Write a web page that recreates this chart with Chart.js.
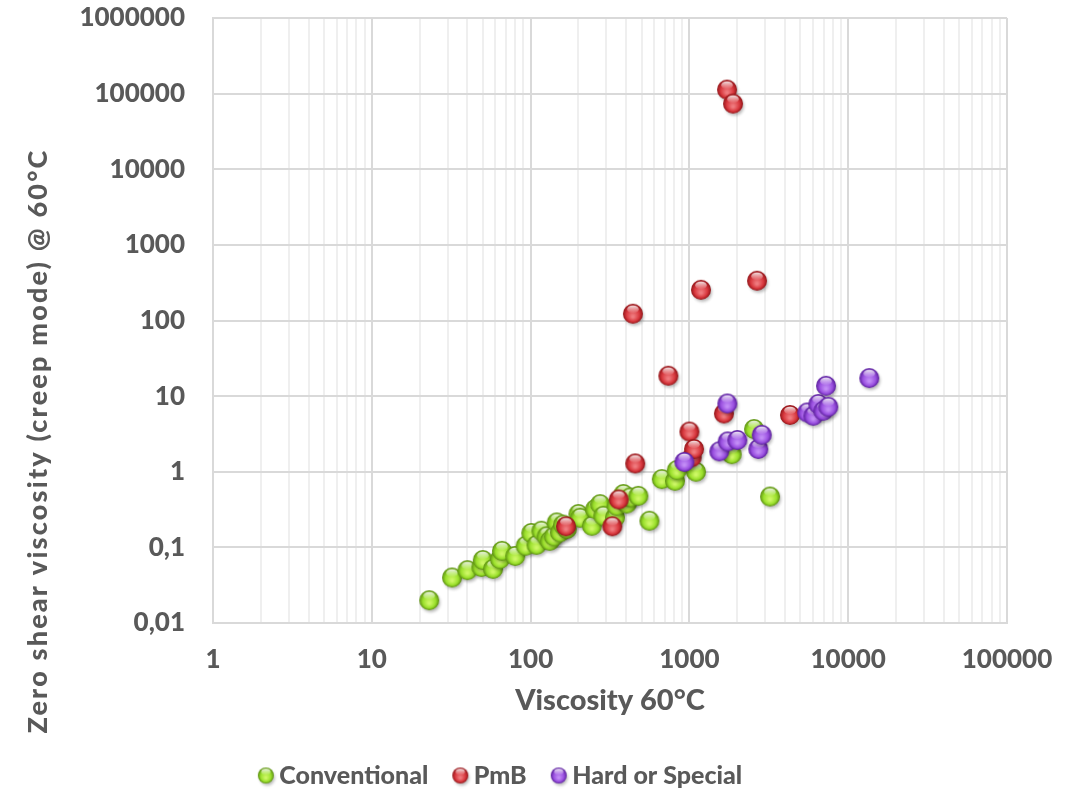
<!DOCTYPE html>
<html>
<head>
<meta charset="utf-8">
<script src="https://cdn.jsdelivr.net/npm/chart.js@4.4.1/dist/chart.umd.min.js"></script>
<style>
  html, body { margin: 0; padding: 0; background: #fff; }
  #wrap { width: 1084px; height: 793px; }
</style>
</head>
<body>
<div id="wrap"><canvas id="grafico-viscosidad" width="1084" height="793"></canvas></div>
<script>
// Series
const series = ["Conventional", "PmB", "Hard or Special"];

const conventionalX = [23, 32, 40, 49, 50, 58, 64, 66, 80, 93, 101, 109, 117, 126, 132, 140, 146, 153, 160, 169,
  200, 205, 243, 255, 274, 287, 340, 348, 384, 403, 423, 477, 560, 670, 811, 832, 1100, 1847, 2553, 3220];
const conventionalY = [0.02, 0.04, 0.05, 0.055, 0.068, 0.052, 0.07, 0.09, 0.077, 0.105, 0.155, 0.108, 0.166, 0.14, 0.122, 0.14, 0.214, 0.158, 0.2, 0.175,
  0.276, 0.246, 0.193, 0.321, 0.373, 0.262, 0.249, 0.355, 0.507, 0.38, 0.457, 0.48, 0.225, 0.8, 0.76, 1.05, 1.0, 1.71, 3.67, 0.47];

const pmbX = [167, 327, 359, 456, 441, 737, 1000, 1033, 1069, 1183, 1650, 1725, 1883, 2665, 4300];
const pmbY = [0.19, 0.19, 0.43, 1.29, 123, 18.6, 3.4, 1.55, 2.0, 255, 5.9, 113000, 73800, 336, 5.63];

const hardX = [929, 1543, 1733, 1742, 2004, 2716, 2853, 5520, 6030, 6480, 6970, 7250, 7490, 13580];
const hardY = [1.35, 1.86, 8.0, 2.52, 2.63, 2.0, 3.08, 6.08, 5.5, 7.86, 6.4, 13.7, 7.24, 17.3];

// Ejes (décadas)
const xTicks = [1, 10, 100, 1000, 10000, 100000];
const yTicks = [0.01, 0.1, 1, 10, 100, 1000, 10000, 100000, 1000000];

const xTitulo = "Viscosity 60°C";
const yTitulo = "Zero shear viscosity (creep mode) @ 60°C";

const gris = "#595959";
const fuente = "Lato, 'Open Sans', sans-serif";
const peso = "900";

// Esfera con brillo para los marcadores
function esfera(base, luz, borde, r) {
  const s = Math.ceil(r * 2 + 10);
  const cv = document.createElement("canvas");
  cv.width = s;
  cv.height = s;
  const g = cv.getContext("2d");
  const c = s / 2;
  // sombra
  g.save();
  g.filter = "blur(1.5px)";
  g.fillStyle = "rgba(0,0,0,0.28)";
  g.beginPath();
  g.arc(c + 1.5, c + 2.5, r - 0.5, 0, Math.PI * 2);
  g.fill();
  g.restore();
  // cuerpo
  const cuerpo = g.createRadialGradient(c, c + r * 0.3, r * 0.1, c, c, r);
  cuerpo.addColorStop(0, luz);
  cuerpo.addColorStop(0.6, base);
  cuerpo.addColorStop(1, borde);
  g.fillStyle = cuerpo;
  g.beginPath();
  g.arc(c, c, r, 0, Math.PI * 2);
  g.fill();
  // brillo superior
  g.beginPath();
  g.ellipse(c, c - r * 0.45, r * 0.58, r * 0.38, 0, 0, Math.PI * 2);
  const brillo = g.createLinearGradient(0, c - r * 0.85, 0, c - r * 0.05);
  brillo.addColorStop(0, "rgba(255,255,255,0.9)");
  brillo.addColorStop(1, "rgba(255,255,255,0)");
  g.fillStyle = brillo;
  g.fill();
  return cv;
}

const colores = [
  ["#9be02c", "#cdf765", "#5a8e10"],
  ["#d8383e", "#ef7a7e", "#921418"],
  ["#9a50e0", "#c28cf6", "#5a1e9c"],
];
const marcadores = colores.map(c => esfera(c[0], c[1], c[2], 10));
const iconosLeyenda = colores.map(c => esfera(c[0], c[1], c[2], 8));

const esMayor = v => Math.abs(Math.log10(v) - Math.round(Math.log10(v))) < 1e-9;

// Décadas con subdivisiones 2..9 para la rejilla del eje X
const xTodos = [];
xTicks.forEach(d => {
  for (let k = 1; k <= 9; k++) {
    const v = d * k;
    if (v <= xTicks[xTicks.length - 1]) xTodos.push(v);
  }
});

const puntos = (xs, ys) => xs.map((x, i) => ({ x: x, y: ys[i] }));

// Título vertical del eje Y (ajustado a 585 px de largo)
const tituloY = {
  id: "tituloY",
  afterDraw(chart) {
    const c = chart.ctx;
    c.save();
    c.translate(38, 441);
    c.rotate(-Math.PI / 2);
    c.font = peso + " 27px " + fuente;
    const ancho = c.measureText(yTitulo).width;
    c.letterSpacing = Math.max(0, (585 - ancho) / yTitulo.length).toFixed(2) + "px";
    c.fillStyle = gris;
    c.textAlign = "center";
    c.textBaseline = "middle";
    c.fillText(yTitulo, 0, 0);
    c.restore();
  },
};

const ctx = document.getElementById("grafico-viscosidad").getContext("2d");
new Chart(ctx, {
  type: "scatter",
  data: {
    datasets: [
      { label: series[0], data: puntos(conventionalX, conventionalY), pointStyle: marcadores[0], pointRadius: 10, order: 3 },
      { label: series[1], data: puntos(pmbX, pmbY), pointStyle: marcadores[1], pointRadius: 10, order: 2 },
      { label: series[2], data: puntos(hardX, hardY), pointStyle: marcadores[2], pointRadius: 10, order: 1 },
    ],
  },
  options: {
    responsive: false,
    animation: false,
    layout: { padding: { left: 0, right: 77, top: 18, bottom: -5 } },
    plugins: {
      tooltip: { enabled: false },
      legend: {
        position: "bottom",
        labels: {
          usePointStyle: true,
          pointStyleWidth: 2,
          padding: 31,
          color: gris,
          font: { family: fuente, size: 25, weight: peso },
          generateLabels(chart) {
            const items = Chart.defaults.plugins.legend.labels.generateLabels(chart);
            items.forEach(it => { it.pointStyle = iconosLeyenda[it.datasetIndex]; });
            return items.sort((a, b) => a.datasetIndex - b.datasetIndex);
          },
        },
      },
    },
    scales: {
      x: {
        type: "logarithmic",
        min: xTicks[0],
        max: xTicks[xTicks.length - 1],
        afterBuildTicks: s => { s.ticks = xTodos.map(v => ({ value: v })); },
        afterFit: s => {
          const ley = s.chart.legend ? s.chart.legend.height : 66;
          s.height = 793 - 623 + 5 - ley;
        },
        border: { color: "#d9d9d9", width: 2 },
        grid: {
          drawTicks: false,
          lineWidth: 2,
          color: c => (c.tick && esMayor(c.tick.value) ? "#d9d9d9" : "#efefef"),
        },
        ticks: {
          autoSkip: false,
          maxRotation: 0,
          padding: 21,
          color: gris,
          font: { family: fuente, size: 26, weight: peso },
          callback: v => (esMayor(v) ? String(v) : ""),
        },
        title: {
          display: true,
          text: xTitulo,
          color: gris,
          font: { family: fuente, size: 29, weight: peso },
          padding: { top: 0, bottom: 14 },
        },
      },
      y: {
        type: "logarithmic",
        min: yTicks[0],
        max: yTicks[yTicks.length - 1],
        afterBuildTicks: s => { s.ticks = yTicks.map(v => ({ value: v })); },
        afterFit: s => {
          s.width = 213;
          s.paddingTop = 0;
          s.paddingBottom = 0;
        },
        border: { color: "#d9d9d9", width: 2 },
        grid: { drawTicks: false, lineWidth: 2, color: "#d9d9d9" },
        ticks: {
          autoSkip: false,
          padding: 28,
          color: gris,
          font: { family: fuente, size: 26, weight: peso },
          callback: v => String(v).replace(".", ","),
        },
      },
    },
  },
  plugins: [tituloY],
});
</script>
</body>
</html>
